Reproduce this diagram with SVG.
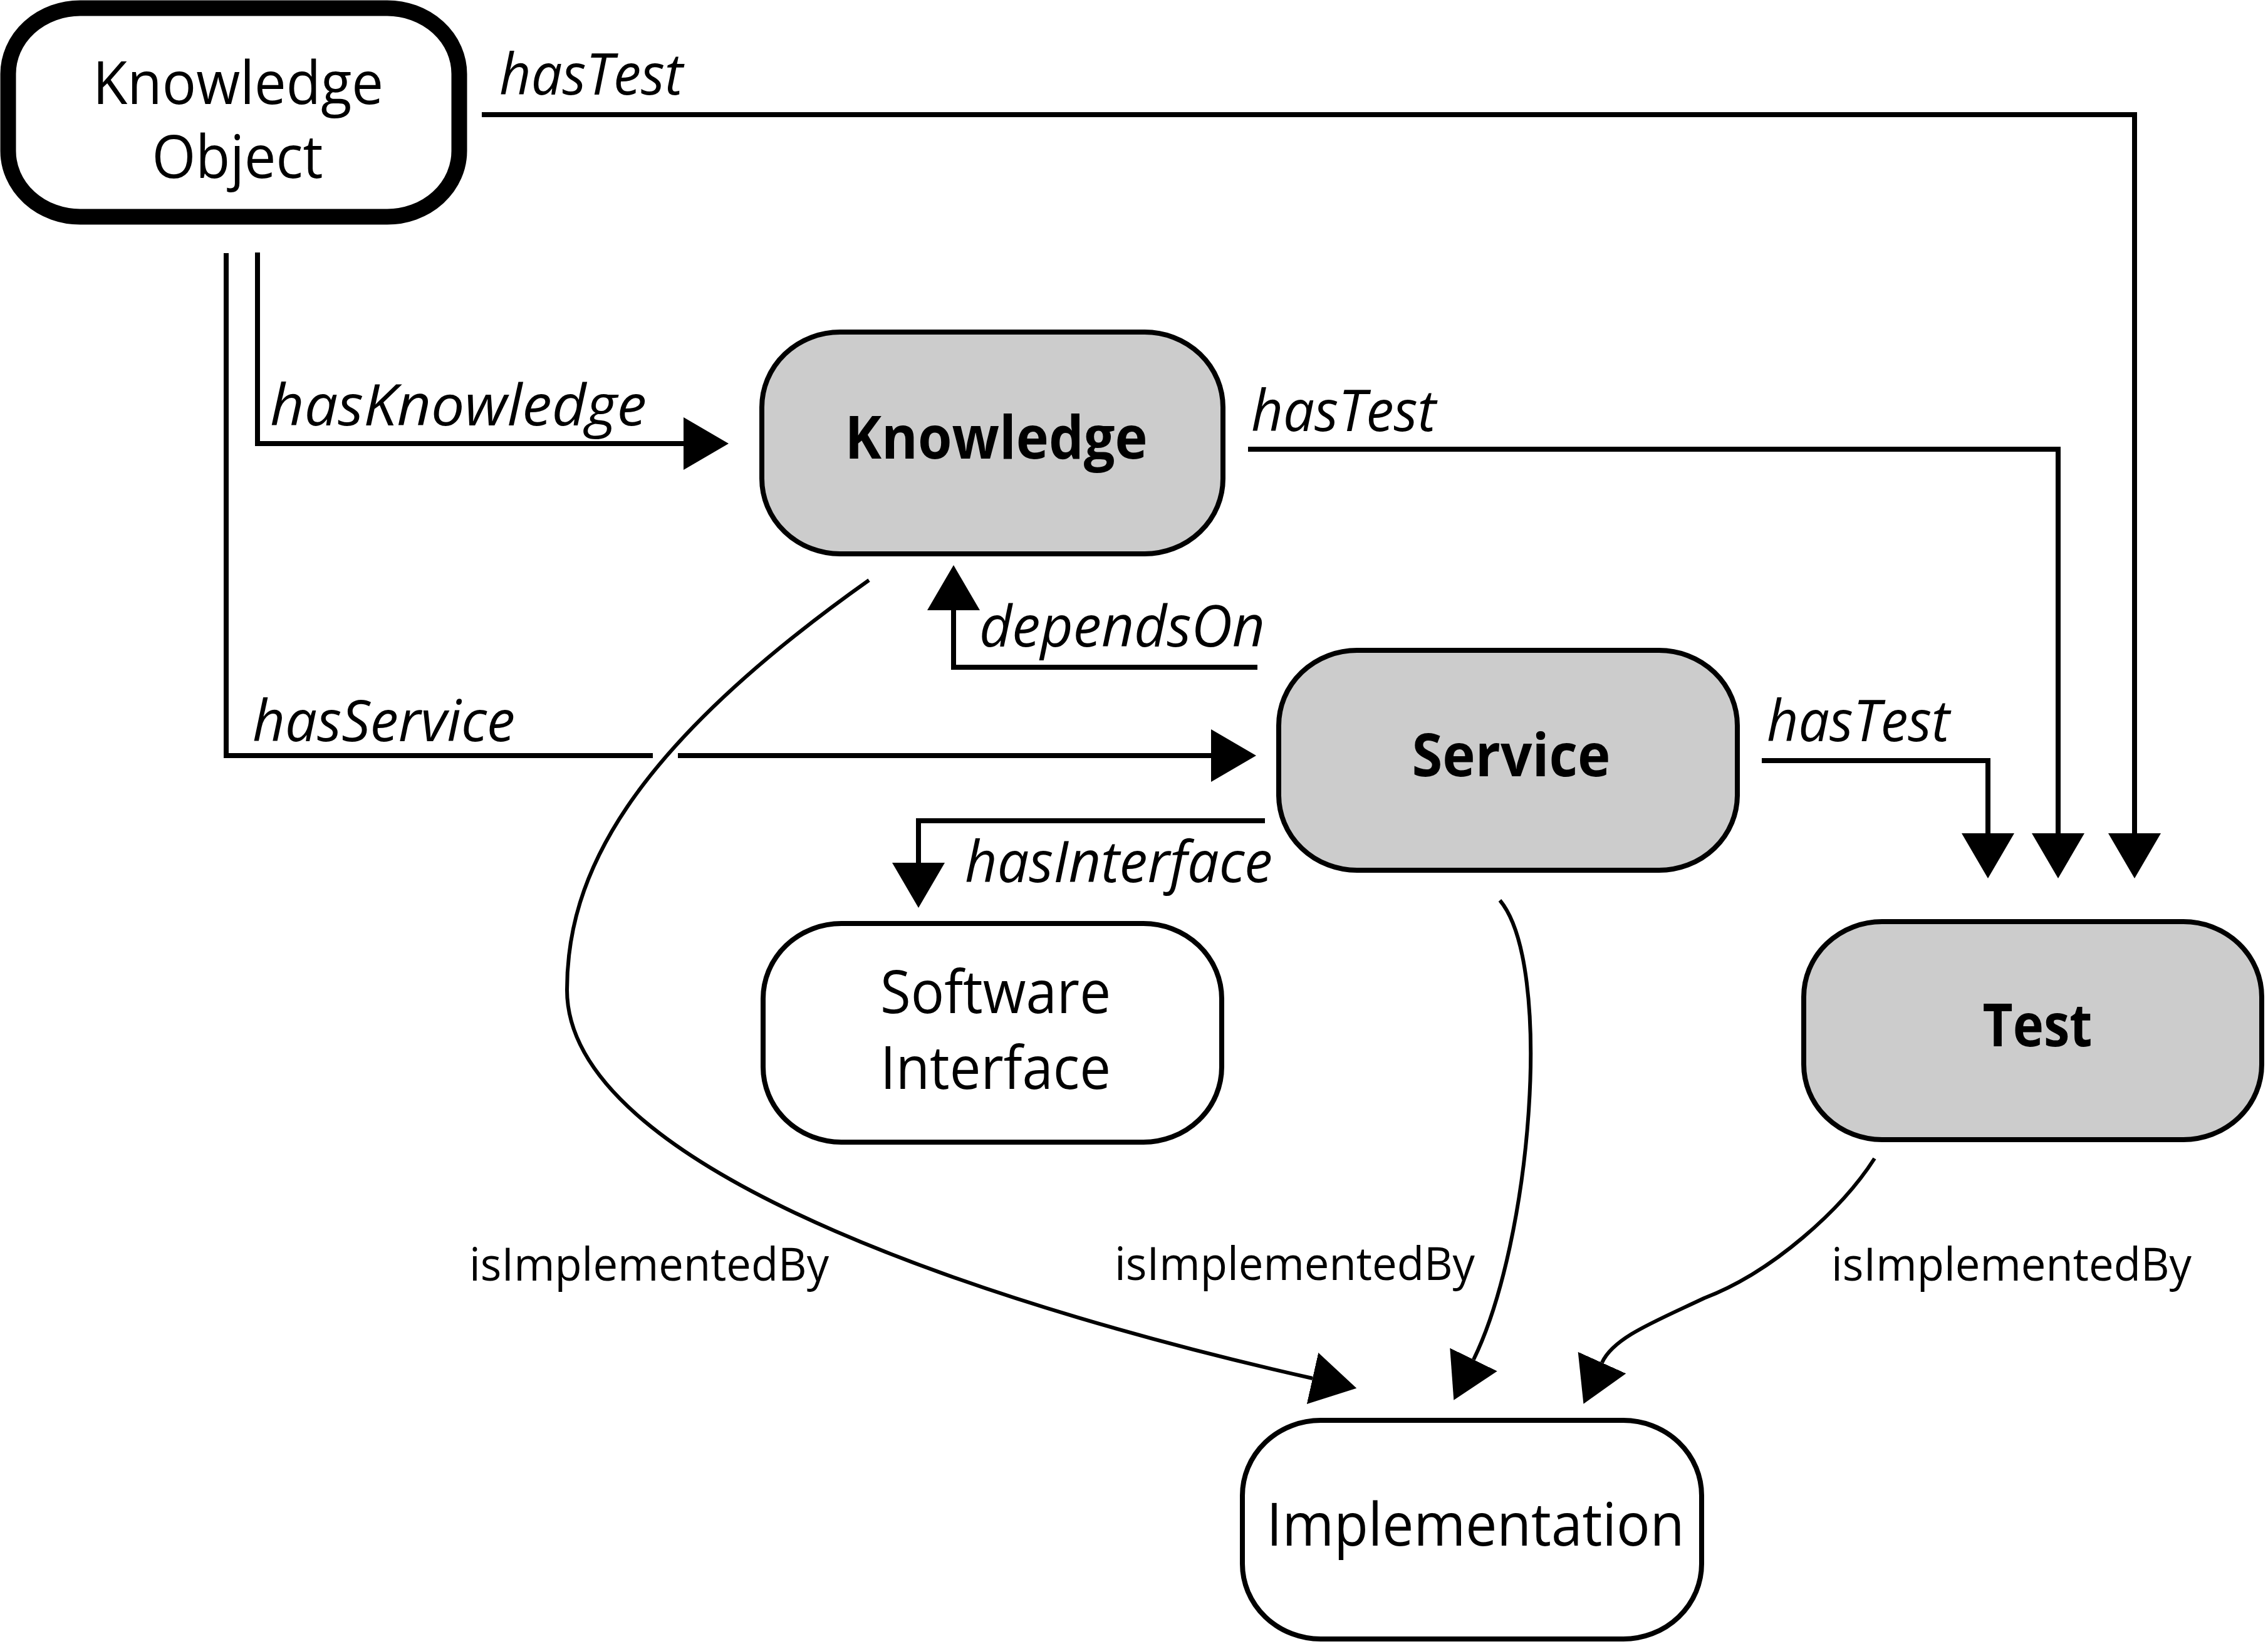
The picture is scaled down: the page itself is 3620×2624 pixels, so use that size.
<svg xmlns="http://www.w3.org/2000/svg" width="3620" height="2624" viewBox="0 0 3620 2624">
<style>
  .node { stroke: #000; stroke-width: 8; }
  .plain { fill: #fff; }
  .gray { fill: #cccccc; }
  .ntxt { font-family: "Open Sans", "Noto Sans", "Liberation Sans", sans-serif; font-size: 95px; fill: #000; }
  .bold { font-weight: bold; }
  .elab { font-family: "Open Sans", "Noto Sans", "Liberation Sans", sans-serif; font-size: 92px; font-style: italic; fill: #000; }
  .ilab { font-family: "Open Sans", "Noto Sans", "Liberation Sans", sans-serif; font-size: 74px; fill: #000; }
  .ortho { fill: none; stroke: #000; stroke-width: 8; marker-end: url(#arrow); }
  .plainline { fill: none; stroke: #000; stroke-width: 8; }
  .curve { fill: none; stroke: #000; stroke-width: 6; marker-end: url(#arrow); }
</style>
<defs>
  <marker id="arrow" markerUnits="userSpaceOnUse" markerWidth="80" markerHeight="90" viewBox="0 0 80 90" refX="0" refY="42" orient="auto">
    <path d="M0,0 L72,42 L0,84 Z" fill="#000"/>
  </marker>
</defs>
<rect width="3620" height="2624" fill="#fff"/>

<g id="connectors">
  <path class="ortho" d="M769,183 H3407 V1330"/>
  <path class="ortho" d="M1992,717 H3285 V1330"/>
  <path class="ortho" d="M2812,1214 H3173 V1330"/>
  <path class="ortho" d="M411,403 V708 H1091"/>
  <path class="plainline" d="M361,404 V1206 H1042"/>
  <path class="ortho" d="M1082,1206 H1933"/>
  <path class="ortho" d="M2007,1065 H1522 V974"/>
  <path class="ortho" d="M2019,1310 H1466 V1377"/>
  <path class="curve" d="M1387,926 C1000,1200 905,1400 905,1580 C905,1880 1650,2100 2095,2200"/>
  <path class="curve" d="M2394,1437 C2480,1540 2445,1980 2352,2170"/>
  <path class="curve" d="M2992,1849 C2940,1930 2830,2030 2720,2072 C2640,2110 2575,2135 2557,2175"/>

  <text class="elab" x="797" y="151" textLength="293" lengthAdjust="spacingAndGlyphs">hasTest</text>
  <text class="elab" x="431" y="679" textLength="601" lengthAdjust="spacingAndGlyphs">hasKnowledge</text>
  <text class="elab" x="1997" y="688" textLength="295" lengthAdjust="spacingAndGlyphs">hasTest</text>
  <text class="elab" x="403" y="1183" textLength="419" lengthAdjust="spacingAndGlyphs">hasService</text>
  <text class="elab" x="1563" y="1032" textLength="456" lengthAdjust="spacingAndGlyphs">dependsOn</text>
  <text class="elab" x="2820" y="1183" textLength="292" lengthAdjust="spacingAndGlyphs">hasTest</text>
  <text class="elab" x="1540" y="1408" textLength="491" lengthAdjust="spacingAndGlyphs">hasInterface</text>
  <text class="ilab" x="749" y="2044" textLength="574" lengthAdjust="spacingAndGlyphs">isImplementedBy</text>
  <text class="ilab" x="1779" y="2043" textLength="575" lengthAdjust="spacingAndGlyphs">isImplementedBy</text>
  <text class="ilab" x="2923" y="2044" textLength="575" lengthAdjust="spacingAndGlyphs">isImplementedBy</text>
</g>

<g id="knowledge-object">
  <rect x="13" y="13" width="720" height="333" rx="115" ry="105" fill="#fff" stroke="#000" stroke-width="25"/>
  <text class="ntxt" x="380" y="166" text-anchor="middle" textLength="464" lengthAdjust="spacingAndGlyphs">Knowledge</text>
  <text class="ntxt" x="379" y="284" text-anchor="middle" textLength="273" lengthAdjust="spacingAndGlyphs">Object</text>
</g>

<g id="knowledge">
  <rect class="node gray" x="1216" y="530" width="736" height="354" rx="125" ry="120"/>
  <text class="ntxt bold" x="1590" y="732" text-anchor="middle" textLength="483" lengthAdjust="spacingAndGlyphs">Knowledge</text>
</g>

<g id="service">
  <rect class="node gray" x="2041" y="1038" width="732" height="351" rx="125" ry="120"/>
  <text class="ntxt bold" x="2412" y="1239" text-anchor="middle" textLength="317" lengthAdjust="spacingAndGlyphs">Service</text>
</g>

<g id="test">
  <rect class="node gray" x="2879" y="1471" width="731" height="348" rx="125" ry="120"/>
  <text class="ntxt bold" x="3252" y="1670" text-anchor="middle" textLength="175" lengthAdjust="spacingAndGlyphs">Test</text>
</g>

<g id="software-interface">
  <rect class="node plain" x="1218" y="1474" width="732" height="349" rx="125" ry="120"/>
  <text class="ntxt" x="1589" y="1617" text-anchor="middle" textLength="368" lengthAdjust="spacingAndGlyphs">Software</text>
  <text class="ntxt" x="1589" y="1738" text-anchor="middle" textLength="368" lengthAdjust="spacingAndGlyphs">Interface</text>
</g>

<g id="implementation">
  <rect class="node plain" x="1983" y="2267" width="733" height="349" rx="125" ry="120"/>
  <text class="ntxt" x="2355" y="2467" text-anchor="middle" textLength="667" lengthAdjust="spacingAndGlyphs">Implementation</text>
</g>
</svg>
